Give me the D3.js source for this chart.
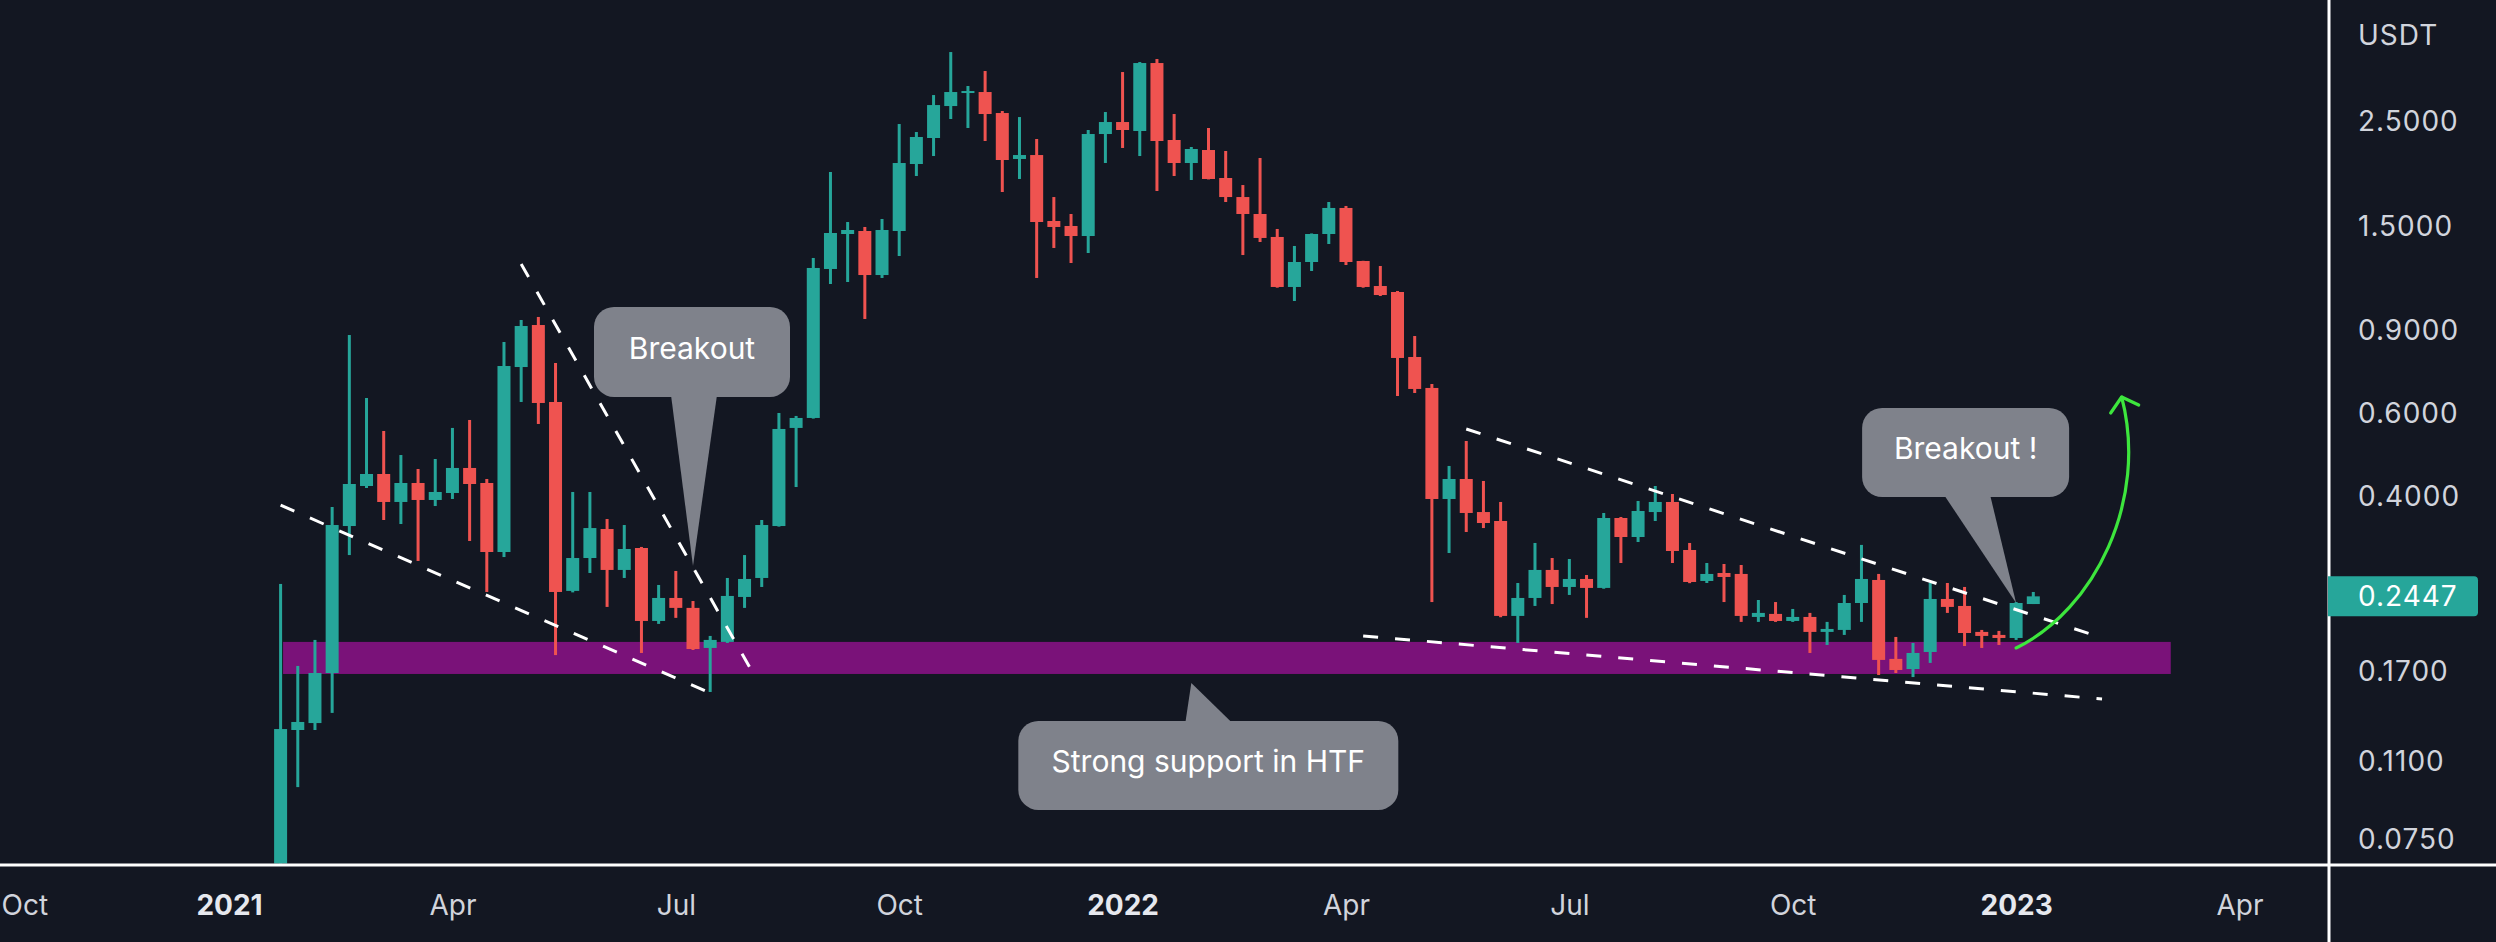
<!DOCTYPE html>
<html><head><meta charset="utf-8">
<script src="https://cdn.jsdelivr.net/npm/d3@7"></script>
<style>
html,body{margin:0;padding:0;background:#131722;overflow:hidden}
svg{display:block}
</style></head><body>
<svg id="chart" width="2496" height="942"></svg>
<script>
// ---------- DATA ----------
const weeks = ["2021-01-25","2021-02-01","2021-02-08","2021-02-15","2021-02-22","2021-03-01","2021-03-08","2021-03-15","2021-03-22","2021-03-29","2021-04-05","2021-04-12","2021-04-19","2021-04-26","2021-05-03","2021-05-10","2021-05-17","2021-05-24","2021-05-31","2021-06-07","2021-06-14","2021-06-21","2021-06-28","2021-07-05","2021-07-12","2021-07-19","2021-07-26","2021-08-02","2021-08-09","2021-08-16","2021-08-23","2021-08-30","2021-09-06","2021-09-13","2021-09-20","2021-09-27","2021-10-04","2021-10-11","2021-10-18","2021-10-25","2021-11-01","2021-11-08","2021-11-15","2021-11-22","2021-11-29","2021-12-06","2021-12-13","2021-12-20","2021-12-27",
"2022-01-03","2022-01-10","2022-01-17","2022-01-24","2022-01-31","2022-02-07","2022-02-14","2022-02-21","2022-02-28","2022-03-07","2022-03-14","2022-03-21","2022-03-28","2022-04-04","2022-04-11","2022-04-18","2022-04-25","2022-05-02","2022-05-09","2022-05-16","2022-05-23","2022-05-30","2022-06-06","2022-06-13","2022-06-20","2022-06-27","2022-07-04","2022-07-11","2022-07-18","2022-07-25","2022-08-01","2022-08-08","2022-08-15","2022-08-22","2022-08-29","2022-09-05","2022-09-12","2022-09-19","2022-09-26","2022-10-03","2022-10-10","2022-10-17","2022-10-24","2022-10-31","2022-11-07","2022-11-14","2022-11-21","2022-11-28","2022-12-05","2022-12-12","2022-12-19","2022-12-26",
"2023-01-02","2023-01-09"];

const open = [0.050,0.1274,0.1318,0.1683,0.345,0.4195,0.4448,0.388,0.4257,0.3918,
0.4054,0.4581,0.4257,0.3039,0.75,0.9208,0.6323,0.2513,0.2951,0.34,
0.2784,0.3099,0.217,0.2428,0.2313,0.1902,0.1959,0.244,0.2677,0.345,
0.557,0.5848,1.2106,1.4362,1.4574,1.1754,1.4574,2.0214,2.2952,2.6829,
2.8589,2.873,2.593,2.0717,2.112,1.5304,1.4935,1.4221,2.3403,2.4814,
2.3749,3.31,2.2729,2.0313,2.1646,1.888,1.7203,1.5836,1.4155,1.1088,
1.2526,1.4362,1.6309,1.2588,1.114,1.0819,0.7877,0.6771,0.3937,0.4341,
0.3694,0.3536,0.2224,0.2428,0.2784,0.2562,0.2664,0.255,0.3588,0.327,
0.3694,0.388,0.3069,0.2638,0.2743,0.273,0.2213,0.2246,0.217,0.2213,
0.2057,0.2077,0.2369,0.2651,0.1803,0.1716,0.1865,0.2416,0.2335,0.2057,
0.2027,0.1997,0.2357];

const high = [0.260,0.1742,0.1978,0.3786,0.8769,0.6447,0.5488,0.488,0.4558,0.4786,
0.557,0.5791,0.4341,0.8475,0.9437,0.9577,0.7649,0.4074,0.4074,0.357,
0.3467,0.3115,0.2587,0.277,0.2392,0.2017,0.2677,0.2994,0.3553,0.5992,
0.5906,1.2775,1.944,1.5228,1.4863,1.5455,2.4574,2.3632,2.8309,3.4925,
2.9588,3.1833,2.6185,2.5425,2.2841,1.7203,1.5836,2.3866,2.6056,3.1677,
3.3261,3.3755,2.5804,2.1967,2.4102,2.154,1.8242,2.0818,1.4718,1.3546,
1.44,1.6791,1.6469,1.26,1.2283,1.0873,0.8726,0.6903,0.4626,0.5226,
0.4299,0.388,0.2612,0.3176,0.2951,0.2937,0.2716,0.3677,0.3606,0.3899,
0.4195,0.4034,0.3176,0.288,0.2866,0.2852,0.2404,0.238,0.2301,0.2257,
0.216,0.2464,0.3146,0.273,0.2007,0.1949,0.2612,0.2612,0.2562,0.2077,
0.2067,0.238,0.25];

const low = [0.045,0.0964,0.1274,0.1385,0.2994,0.4154,0.3553,0.3484,0.2909,0.3804,
0.3937,0.3207,0.25,0.2965,0.6323,0.5679,0.1837,0.2495,0.2743,0.2324,
0.2677,0.1856,0.2139,0.2203,0.1883,0.1534,0.1949,0.2313,0.2562,0.344,
0.4174,0.583,1.125,1.136,0.9483,1.1586,1.2898,1.9063,2.1018,2.5183,
2.4102,2.2618,1.7631,1.8788,1.1586,1.3414,1.2465,1.3089,2.0313,2.186,
2.1018,1.7718,1.9063,1.8696,1.875,1.6791,1.296,1.3811,1.105,1.0354,
1.1988,1.3677,1.2343,1.105,1.0609,0.651,0.6607,0.238,0.3024,0.3351,
0.3416,0.221,0.1949,0.2335,0.2357,0.2464,0.2203,0.254,0.288,0.3191,
0.3536,0.288,0.261,0.2612,0.238,0.216,0.216,0.216,0.216,0.1856,
0.193,0.2027,0.216,0.1667,0.1683,0.165,0.1768,0.2257,0.192,0.1902,
0.193,0.1978,0.2357];

const close = [0.128,0.1325,0.1683,0.3467,0.4236,0.4448,0.388,0.4257,0.3918,0.4074,
0.4581,0.4236,0.3039,0.7537,0.9163,0.6292,0.25,0.2951,0.3416,0.2784,
0.3084,0.217,0.2428,0.2313,0.1892,0.1978,0.2452,0.2664,0.3467,0.5542,
0.5848,1.2166,1.4432,1.4646,1.1754,1.4646,2.0313,2.3066,2.6959,2.873,
2.887,2.5804,2.0614,2.112,1.5228,1.4863,1.4221,2.3403,2.4814,2.3866,
3.31,2.2618,2.0313,2.1753,1.8788,1.7203,1.5836,1.4086,1.1088,1.2526,
1.4362,1.6309,1.2526,1.1088,1.066,0.7839,0.6738,0.3937,0.4341,0.3677,
0.3501,0.2224,0.2428,0.2784,0.2562,0.2664,0.255,0.3588,0.327,0.3713,
0.388,0.3054,0.2625,0.273,0.269,0.2224,0.2257,0.217,0.2213,0.2057,
0.2087,0.2369,0.2664,0.1794,0.1708,0.1856,0.2416,0.2324,0.2046,0.2017,
0.1997,0.2369,0.2447];

const priceTicks = [2.5, 1.5, 0.9, 0.6, 0.4, 0.17, 0.11, 0.075];
const tickDates  = ["2020-10-05","2021-01-04","2021-04-05","2021-07-05","2021-10-04","2022-01-03","2022-04-04","2022-07-04","2022-10-03","2023-01-02","2023-04-03"];
const tickLabels = ["Oct","2021","Apr","Jul","Oct","2022","Apr","Jul","Oct","2023","Apr"];
const currencyLabel = "USDT";
const lastPrice = 0.2447;

// drawings (anchored in date / price)
const trendLines = [
  [["2021-01-25", 0.382], ["2021-07-21", 0.151]],
  [["2021-05-03", 1.2405], ["2021-08-07", 0.1627]],
  [["2022-05-23", 0.5542], ["2023-02-06", 0.1998]],
  [["2022-04-11", 0.2017], ["2023-02-06", 0.1482]]
];
const supportZone = {from: "2021-01-26", to: "2023-03-06", top: 0.1959, bottom: 0.1675};
const callouts = [
  {text: "Breakout", tip: ["2021-07-12", 0.2839], dx: -1, dy: -214, w: 196, h: 90, b0: -22, b1: 24},
  {text: "Strong support in HTF", tip: ["2022-01-31", 0.1603], dx: 17, dy: 82.5, w: 380, h: 89, b0: -6, b1: 41},
  {text: "Breakout !", tip: ["2023-01-02", 0.2369], dx: -50.5, dy: -150.5, w: 207, h: 89, b0: -72, b1: -26}
];
const arrowPts = [["2023-01-02", 0.1902], ["2023-02-03", 0.229], ["2023-02-25", 0.3918], ["2023-02-14", 0.6478]];

// ---------- LAYOUT ----------
const W = 2496, H = 942;
const plotRight = 2329, plotBottom = 865;
const UP = "#26a69a", DOWN = "#ef5350", BG = "#131722";
const FONT = "Inter, 'Noto Sans', sans-serif";
const parse = d3.utcParse("%Y-%m-%d");

const x = d3.scaleUtc().domain([parse("2021-01-25"), parse("2023-01-09")]).range([280.6, 2033.3]);
const y = d3.scaleLog().domain([2.5, 0.075]).range([120.5, 838.5]);

const svg = d3.select("#chart");
svg.append("rect").attr("width", W).attr("height", H).attr("fill", BG);

svg.append("defs").append("clipPath").attr("id", "plot")
  .append("rect").attr("x", 0).attr("y", 0).attr("width", plotRight - 1.5).attr("height", plotBottom - 1.5);

const plot = svg.append("g").attr("clip-path", "url(#plot)");

// support zone
plot.append("rect")
  .attr("x", x(parse(supportZone.from)))
  .attr("width", x(parse(supportZone.to)) - x(parse(supportZone.from)))
  .attr("y", y(supportZone.top))
  .attr("height", y(supportZone.bottom) - y(supportZone.top))
  .attr("fill", "#7a1279");

const candles = weeks.map((d, i) => ({date: parse(d), o: open[i], h: high[i], l: low[i], c: close[i]}));

const cg = plot.append("g");
cg.selectAll("rect.wick").data(candles).join("rect").attr("class", "wick")
  .attr("x", d => x(d.date) - 1.5).attr("width", 3)
  .attr("y", d => y(d.h)).attr("height", d => y(d.l) - y(d.h))
  .attr("fill", d => d.c >= d.o ? UP : DOWN);
cg.selectAll("rect.body").data(candles).join("rect").attr("class", "body")
  .attr("x", d => x(d.date) - 6.5).attr("width", 13)
  .attr("y", d => y(Math.max(d.o, d.c)))
  .attr("height", d => Math.max(2, Math.abs(y(d.o) - y(d.c))))
  .attr("fill", d => d.c >= d.o ? UP : DOWN);

// trend lines
const lineGen = d3.line().x(p => x(parse(p[0]))).y(p => y(p[1]));
plot.selectAll("path.trend").data(trendLines).join("path").attr("class", "trend")
  .attr("d", lineGen).attr("fill", "none").attr("stroke", "#ffffff")
  .attr("stroke-width", 3).attr("stroke-dasharray", "15 17");

// callouts
callouts.forEach(c => {
  const tx = x(parse(c.tip[0])), ty = y(c.tip[1]);
  const cx = tx + c.dx, cy = ty + c.dy;
  const g = plot.append("g");
  const below = c.dy < 0;
  const edgeY = below ? cy + c.h / 2 - 2 : cy - c.h / 2 + 2;
  g.append("path")
    .attr("d", `M${tx + c.b0},${edgeY} L${tx},${ty} L${tx + c.b1},${edgeY} Z`)
    .attr("fill", "#7f828b");
  g.append("rect").attr("x", cx - c.w / 2).attr("y", cy - c.h / 2)
    .attr("width", c.w).attr("height", c.h).attr("rx", 20).attr("fill", "#7f828b");
  g.append("text").attr("x", cx).attr("y", cy - 4)
    .attr("text-anchor", "middle").attr("dominant-baseline", "central")
    .attr("font-family", FONT).attr("font-size", 30)
    .attr("fill", "#ffffff").text(c.text);
});

// green arrow
const ap = arrowPts.map(p => [x(parse(p[0])), y(p[1])]);
plot.append("path")
  .attr("d", `M${ap[0][0]},${ap[0][1]} C${ap[1][0]},${ap[1][1]} ${ap[2][0]},${ap[2][1]} ${ap[3][0]},${ap[3][1]}`)
  .attr("fill", "none").attr("stroke", "#3de63d").attr("stroke-width", 3.2).attr("stroke-linecap", "round");
const tip = ap[3];
plot.append("path")
  .attr("d", `M${tip[0] - 11},${tip[1] + 16} L${tip[0]},${tip[1]} L${tip[0] + 17},${tip[1] + 8}`)
  .attr("fill", "none").attr("stroke", "#3de63d").attr("stroke-width", 3.2)
  .attr("stroke-linecap", "round").attr("stroke-linejoin", "round");

// ---------- AXES ----------
const yAxis = d3.axisRight(y).tickValues(priceTicks).tickFormat(d3.format(".4f")).tickSize(0).tickPadding(29);
const ya = svg.append("g").attr("transform", `translate(${plotRight},0)`).call(yAxis);
ya.select(".domain").remove();
ya.selectAll("text").attr("dy", null).attr("dominant-baseline", "central")
  .attr("font-family", FONT).attr("font-size", 28)
  .attr("letter-spacing", 1).attr("fill", "#d1d4dc");

svg.append("text").attr("x", plotRight + 29).attr("y", 35).attr("dominant-baseline", "central")
  .attr("font-family", FONT).attr("font-size", 28)
  .attr("letter-spacing", 1).attr("fill", "#d1d4dc").text(currencyLabel);

const xAxis = d3.axisBottom(x).tickValues(tickDates.map(parse))
  .tickFormat((d, i) => tickLabels[i]).tickSize(0).tickPadding(0);
const xa = svg.append("g").attr("transform", `translate(0,${plotBottom})`).call(xAxis);
xa.select(".domain").remove();
xa.selectAll("text").attr("y", 40).attr("dy", null).attr("dominant-baseline", "central")
  .attr("font-family", FONT).attr("font-size", 28)
  .attr("font-weight", (d, i) => /^\d{4}$/.test(tickLabels[i]) ? 700 : 400)
  .attr("fill", (d, i) => /^\d{4}$/.test(tickLabels[i]) ? "#e6e8ee" : "#d1d4dc");
// keep edge labels fully inside the window
xa.selectAll(".tick").each(function(d) {
  const t = d3.select(this).select("text");
  const w = t.node().getComputedTextLength();
  const px = x(d);
  if (px - w / 2 < 1) t.attr("text-anchor", "start").attr("x", 1 - px);
});

// frame lines
svg.append("line").attr("x1", 0).attr("x2", W).attr("y1", plotBottom).attr("y2", plotBottom)
  .attr("stroke", "#ffffff").attr("stroke-width", 3);
svg.append("line").attr("x1", plotRight).attr("x2", plotRight).attr("y1", 0).attr("y2", H)
  .attr("stroke", "#ffffff").attr("stroke-width", 3);

// last price badge
const ly = y(lastPrice);
svg.append("path")
  .attr("d", `M${plotRight - 1},${ly - 20} H2474 a4,4 0 0 1 4,4 V${ly + 16} a4,4 0 0 1 -4,4 H${plotRight - 1} Z`)
  .attr("fill", UP);
svg.append("text").attr("x", plotRight + 29).attr("y", ly).attr("dominant-baseline", "central")
  .attr("font-family", FONT).attr("font-size", 28)
  .attr("letter-spacing", 1).attr("fill", "#ffffff").text(d3.format(".4f")(lastPrice));
</script>
</body></html>
